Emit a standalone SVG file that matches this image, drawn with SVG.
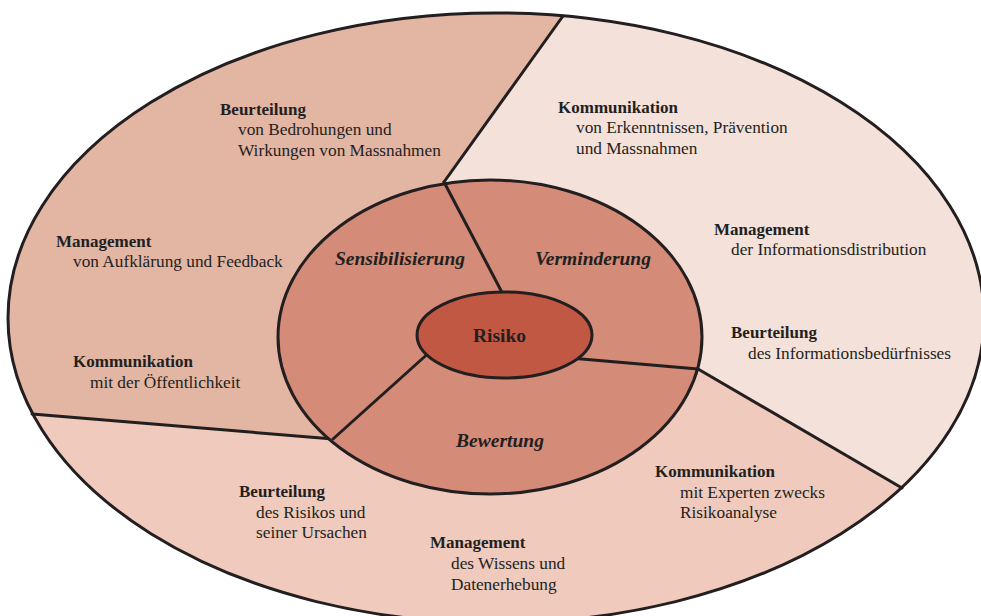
<svg xmlns="http://www.w3.org/2000/svg" width="981" height="616" viewBox="0 0 981 616">
<style>
.line{stroke:#231f20;stroke-width:3;fill:none;stroke-linecap:round}
text{font-family:'Liberation Serif','Times New Roman',serif;fill:#231f20}
.b{font-size:17px;font-weight:bold}
.r{font-size:17.3px}
.bi{font-size:19.5px;font-weight:bold;font-style:italic;text-anchor:middle}
</style>
<rect width="981" height="616" fill="#ffffff"/>
<g id="outer-ring">
  <ellipse cx="496" cy="318" rx="488" ry="305" fill="#efcabd"/>
  <path d="M563,16 A488,305 0 0,0 32,414 L333,439 L444,182 Z" fill="#e3b5a3"/>
  <path d="M563,16 A488,305 0 0,1 902,488 L698,369 L444,182 Z" fill="#f4e1da"/>
  <ellipse cx="496" cy="318" rx="488" ry="305" class="line" stroke-width="3"/>
</g>
<g id="connectors">
  <line class="line" x1="563" y1="16" x2="444" y2="182"/>
  <line class="line" x1="32" y1="414" x2="333" y2="439"/>
  <line class="line" x1="902" y1="488" x2="698" y2="369"/>
</g>
<g id="middle-ring">
  <ellipse cx="490" cy="337" rx="212" ry="157" fill="#d48b77" stroke="#231f20" stroke-width="3"/>
  <line class="line" x1="444" y1="182" x2="506" y2="300"/>
  <line class="line" x1="333" y1="439" x2="432" y2="350"/>
  <line class="line" x1="698" y1="369" x2="570" y2="358"/>
</g>
<g id="risiko">
  <ellipse cx="504.5" cy="335" rx="87.5" ry="43" fill="#c05843" stroke="#231f20" stroke-width="3"/>
  <text x="499.5" y="342" font-size="19.5" font-weight="bold" text-anchor="middle">Risiko</text>
</g>
<g id="sensibilisierung"><text class="bi" x="400" y="265">Sensibilisierung</text></g>
<g id="verminderung"><text class="bi" x="593" y="265">Verminderung</text></g>
<g id="bewertung"><text class="bi" x="500" y="447">Bewertung</text></g>
<g id="sector-top-left">
  <text class="b" x="220" y="115">Beurteilung</text>
  <text class="r" x="238" y="135">von Bedrohungen und</text>
  <text class="r" x="238" y="156">Wirkungen von Massnahmen</text>
  <text class="b" x="56" y="247">Management</text>
  <text class="r" x="73" y="267">von Aufklärung und Feedback</text>
  <text class="b" x="73" y="367">Kommunikation</text>
  <text class="r" x="90" y="388">mit der Öffentlichkeit</text>
</g>
<g id="sector-right">
  <text class="b" x="558" y="113">Kommunikation</text>
  <text class="r" x="576" y="133">von Erkenntnissen, Prävention</text>
  <text class="r" x="576" y="154">und Massnahmen</text>
  <text class="b" x="714" y="235">Management</text>
  <text class="r" x="731" y="255">der Informationsdistribution</text>
  <text class="b" x="731" y="338">Beurteilung</text>
  <text class="r" x="748" y="359">des Informationsbedürfnisses</text>
</g>
<g id="sector-bottom">
  <text class="b" x="239" y="497">Beurteilung</text>
  <text class="r" x="256" y="518">des Risikos und</text>
  <text class="r" x="256" y="538">seiner Ursachen</text>
  <text class="b" x="430" y="548">Management</text>
  <text class="r" x="451" y="569">des Wissens und</text>
  <text class="r" x="451" y="590">Datenerhebung</text>
  <text class="b" x="655" y="477">Kommunikation</text>
  <text class="r" x="680" y="498">mit Experten zwecks</text>
  <text class="r" x="680" y="518">Risikoanalyse</text>
</g>
</svg>
